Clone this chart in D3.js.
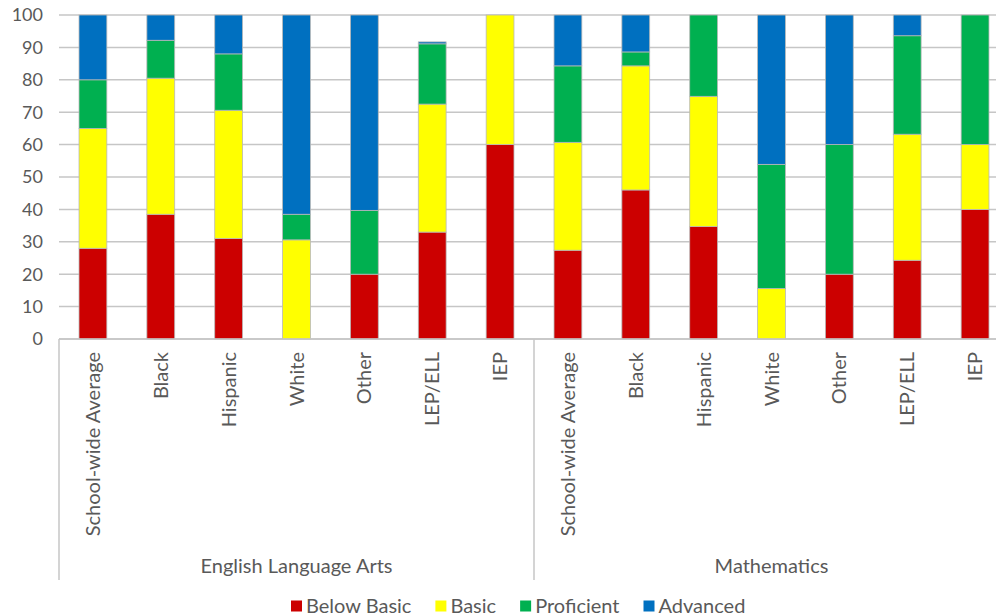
<!DOCTYPE html>
<html>
<head>
<meta charset="utf-8">
<script src="https://cdn.jsdelivr.net/npm/d3@7/dist/d3.min.js"></script>
<style>
  html, body { margin: 0; padding: 0; background: #fff; overflow: hidden; }
  svg { display: block; font-family: Lato, "Open Sans", sans-serif; }
</style>
</head>
<body>
<svg id="chart" width="996" height="616"></svg>
<script>
// Subjects and student groups
const subjects = ["English Language Arts", "Mathematics"];
const groups = ["School-wide Average", "Black", "Hispanic", "White", "Other", "LEP/ELL", "IEP"];

// Performance levels, bottom to top
const levels = ["Below Basic", "Basic", "Proficient", "Advanced"];
const levelColors = ["#CC0000", "#FFFF00", "#00B050", "#0070C0"];

// Percent of students at each level, per group (ELA then Math)
const belowBasic = [28, 38.5, 31, 0, 20, 33, 60,   27.4, 46, 34.7, 0, 20, 24.3, 40];
const basic      = [37, 42, 39.6, 30.6, 0, 39.5, 40,   33.3, 38.3, 40.2, 15.6, 0, 38.9, 20];
const proficient = [15, 11.7, 17.4, 7.9, 19.7, 18.6, 0,   23.6, 4.3, 25.1, 38.3, 40, 30.4, 40];
const advanced   = [20, 7.8, 12, 61.5, 60.3, 0.6, 0,   15.7, 11.4, 0, 46.1, 40, 6.4, 0];

const yTicks = [0, 10, 20, 30, 40, 50, 60, 70, 80, 90, 100];

// Build rows for the stack layout
const rows = [];
subjects.forEach((s, si) => {
  groups.forEach((g, gi) => {
    const i = si * groups.length + gi;
    rows.push({
      key: s + "|" + g, subject: s, group: g,
      "Below Basic": belowBasic[i], "Basic": basic[i],
      "Proficient": proficient[i], "Advanced": advanced[i]
    });
  });
});

const svg = d3.select("#chart");
const textColor = "#595959";
const gridColor = "#c6c6c6";

const plotLeft = 59, plotRight = 1009, plotTop = 15, plotBottom = 339;

const x = d3.scaleBand()
  .domain(rows.map(r => r.key))
  .range([plotLeft, plotRight])
  .paddingInner(0.59)
  .paddingOuter(0.295);

const y = d3.scaleLinear().domain([0, 100]).range([plotBottom, plotTop]);

// Horizontal gridlines
svg.append("g")
  .selectAll("line")
  .data(yTicks)
  .join("line")
  .attr("x1", plotLeft).attr("x2", plotRight)
  .attr("y1", d => y(d)).attr("y2", d => y(d))
  .attr("stroke", gridColor).attr("stroke-width", 1.5);

// Y axis labels
svg.append("g")
  .selectAll("text")
  .data(yTicks)
  .join("text")
  .attr("x", 43).attr("y", d => y(d))
  .attr("dy", "0.35em")
  .attr("text-anchor", "end")
  .attr("font-size", 18)
  .attr("fill", textColor)
  .text(d => d);

// Stacked bars
const stack = d3.stack().keys(levels);
const series = stack(rows);
const color = d3.scaleOrdinal().domain(levels).range(levelColors);

svg.append("g")
  .selectAll("g")
  .data(series)
  .join("g")
  .attr("fill", d => color(d.key))
  .selectAll("rect")
  .data(d => d.filter(p => p[1] - p[0] > 0))
  .join("rect")
  .attr("x", d => x(d.data.key))
  .attr("width", x.bandwidth())
  .attr("y", d => y(d[1]))
  .attr("height", d => y(d[0]) - y(d[1]))
  .attr("stroke", "#b8b8b8")
  .attr("stroke-width", 0.8);

// Category axis line and group separators
const axisBottom = 580;
svg.append("line")
  .attr("x1", plotLeft).attr("x2", plotRight)
  .attr("y1", plotBottom).attr("y2", plotBottom)
  .attr("stroke", gridColor).attr("stroke-width", 1.5);

const sepX = [plotLeft, ...subjects.slice(1).map(s => x(s + "|" + groups[0]) - x.step() * x.paddingInner() / 2)];
svg.append("g")
  .selectAll("line")
  .data(sepX)
  .join("line")
  .attr("x1", d => d).attr("x2", d => d)
  .attr("y1", plotBottom).attr("y2", axisBottom)
  .attr("stroke", gridColor).attr("stroke-width", 1.5);

// Rotated group labels
svg.append("g")
  .selectAll("text")
  .data(rows)
  .join("text")
  .attr("transform", d => `translate(${x(d.key) + x.bandwidth() / 2},352) rotate(-90)`)
  .attr("dy", "0.35em")
  .attr("text-anchor", "end")
  .attr("font-size", 20)
  .attr("fill", textColor)
  .text(d => d.group);

// Subject labels
svg.append("g")
  .selectAll("text")
  .data(subjects)
  .join("text")
  .attr("x", s => {
    const first = x(s + "|" + groups[0]);
    const last = x(s + "|" + groups[groups.length - 1]) + x.bandwidth();
    return (first + last) / 2;
  })
  .attr("y", 573)
  .attr("text-anchor", "middle")
  .attr("font-size", 20)
  .attr("fill", textColor)
  .text(s => s);

// Legend
const legend = svg.append("g").attr("transform", "translate(291,606)");
let lx = 0;
levels.forEach((lv, i) => {
  const item = legend.append("g").attr("transform", `translate(${lx},0)`);
  item.append("rect")
    .attr("x", 0).attr("y", -5.5).attr("width", 11).attr("height", 11)
    .attr("fill", levelColors[i]);
  const t = item.append("text")
    .attr("x", 15).attr("dy", "0.35em")
    .attr("font-size", 20)
    .attr("fill", textColor)
    .text(lv);
  lx += 15 + t.node().getComputedTextLength() + 24;
});
</script>
</body>
</html>
